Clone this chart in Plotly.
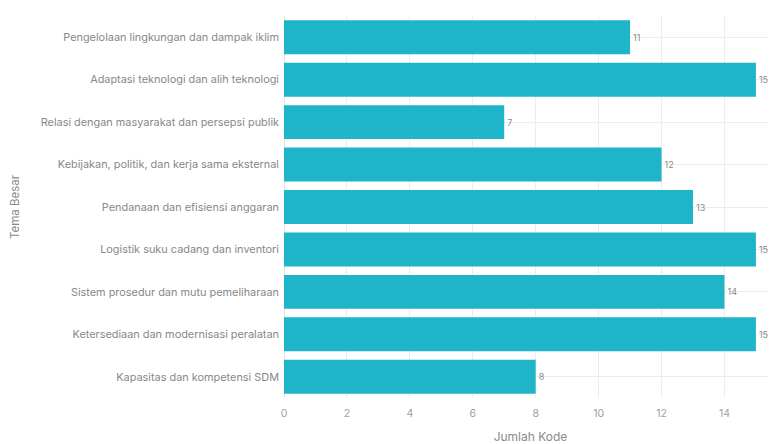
import plotly.graph_objects as go

categories = [
    "Pengelolaan lingkungan dan dampak iklim",
    "Adaptasi teknologi dan alih teknologi",
    "Relasi dengan masyarakat dan persepsi publik",
    "Kebijakan, politik, dan kerja sama eksternal",
    "Pendanaan dan efisiensi anggaran",
    "Logistik suku cadang dan inventori",
    "Sistem prosedur dan mutu pemeliharaan",
    "Ketersediaan dan modernisasi peralatan",
    "Kapasitas dan kompetensi SDM",
]
values = [11, 15, 7, 12, 13, 15, 14, 15, 8]
x_ticks = [0, 2, 4, 6, 8, 10, 12, 14]

fig = go.Figure(go.Bar(
    x=values, y=categories, orientation="h",
    marker=dict(color="#1FB5C9", line=dict(width=0)),
    text=[str(v) for v in values], textposition="outside",
    textfont=dict(size=9, color="#8a8a8a"),
    cliponaxis=False,
))
fig.update_layout(
    width=769, height=436,
    margin=dict(l=276, r=0, t=8, b=46),
    paper_bgcolor="white", plot_bgcolor="white",
    font=dict(family="Inter, Lato, sans-serif", size=10, color="#8a8a8a"),
    bargap=0.2,
    showlegend=False,
)
fig.update_xaxes(
    range=[0, 15.67], tickvals=x_ticks, showgrid=True, gridcolor="#ededed",
    zeroline=True, zerolinecolor="#e2e2e2", zerolinewidth=1,
    automargin=False, ticklabelstandoff=7,
    title=dict(text="Jumlah Kode", font=dict(size=12, color="#8a8a8a"), standoff=14),
    ticks="", tickfont=dict(size=10.5, color="#a0a0a0"),
)
fig.update_yaxes(
    autorange="reversed", showgrid=True, gridcolor="#ededed",
    automargin=False, ticklabelstandoff=4,
    title=dict(text="Tema Besar", font=dict(size=11.5, color="#8a8a8a"), standoff=20),
    ticks="", tickfont=dict(size=10.9, color="#888888"),
)
fig.write_html("out.html")
